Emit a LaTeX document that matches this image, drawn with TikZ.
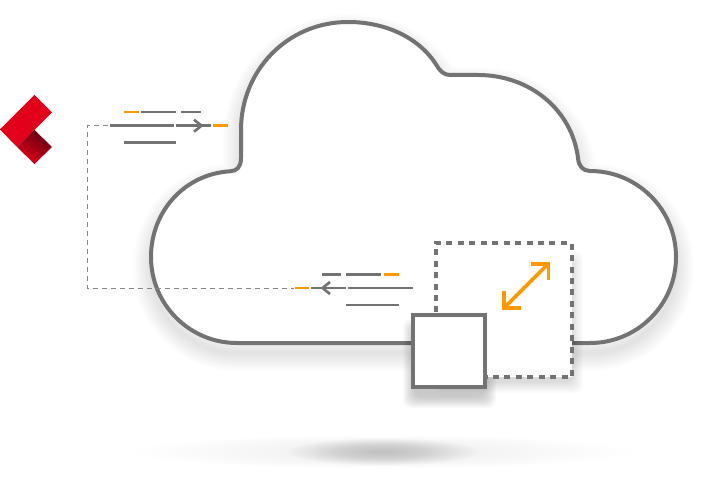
\documentclass[tikz,border=0pt]{standalone}
\usetikzlibrary{positioning, calc}

\definecolor{linegray}{HTML}{737373}
\definecolor{lineorange}{HTML}{FF9900}
\definecolor{logored}{HTML}{E2001A}
\definecolor{logodark}{HTML}{5E0010}

\tikzset{
  cloudline/.style={draw=linegray, line width=4pt, fill=white},
  graybar/.style={draw=linegray, line width=2.6pt},
  orangebar/.style={draw=lineorange, line width=2.6pt},
  resizeline/.style={draw=lineorange, line width=3.8pt, miter limit=10},
  thinlink/.style={draw=linegray!85, line width=0.7pt, dash pattern=on 5pt off 4pt},
  solidbox/.style={draw=linegray, line width=3.8pt, fill=white, minimum size=72pt, inner sep=0pt},
  dashbox/.style={draw=linegray, line width=3.8pt, fill=white, minimum width=136pt, minimum height=134pt, inner sep=0pt, dash pattern=on 6pt off 5.45pt}
}

\newcommand{\cloudpath}{(237,343) -- (590,343)
  .. controls (637.5,343) and (676,304.5) .. (676,257)
  .. controls (676,209.5) and (637.5,171) .. (590,171)
  .. controls (583,171) and (578.5,166) .. (578,158)
  .. controls (572,110) and (530,75) .. (478,75)
  -- (450,75)
  .. controls (444,75) and (440,71) .. (437,66)
  .. controls (420,38) and (386,22) .. (348,22)
  .. controls (288,22) and (241,70) .. (241,130)
  -- (241,158)
  .. controls (241,167) and (237,171) .. (230,171.3)
  .. controls (185,174) and (151,211) .. (151,257)
  .. controls (151,304.5) and (189.5,343) .. (237,343) -- cycle}

\begin{document}
\begin{tikzpicture}[x=1pt, y=-1pt]
\useasboundingbox (0,0) rectangle (708,481);

% Ground shadow
\foreach \k in {1,...,16} {
  \fill[black, opacity=0.005] (383,452) ellipse ({262-\k*14} and {17-\k*0.5});
}
\foreach \k in {1,...,18} {
  \fill[black, opacity=0.012] (383,452) ellipse ({100-\k*5} and {14-\k*0.7});
}

% Cloud shadow
\foreach \k in {1,...,14} {
  \draw[black, opacity=0.008, line width=\k*2.6pt, line join=round, yshift=-10pt] \cloudpath;
}

% Cloud
\draw[cloudline] \cloudpath;

% Shadows of the two boxes
\foreach \k in {1,...,12} {
  \fill[black, opacity=0.01, rounded corners=8pt] (\k+432,\k+250) rectangle (584-\k,394-\k);
  \fill[black, opacity=0.018, rounded corners=8pt] (\k+402,\k+318) rectangle (497-\k,409-\k);
}

% Boxes
\node[dashbox] (scaled) at (503.7,310) {};
\node[solidbox] (server) at (449.3,350.7) {};

% Resize arrow
\draw[resizeline] (505,307) -- (547,265);
\draw[resizeline] (531,263.7) -- (548.4,263.7) -- (548.4,280);
\draw[resizeline] (503.9,291) -- (503.9,308) -- (521,308);

% Outgoing lines
\draw[orangebar] (124,112) -- (139,112);
\draw[graybar] (141,112) -- (176,112);
\draw[graybar] (181,112) -- (201,112);
\draw[graybar] (110,125.7) -- (174,125.7);
\draw[graybar] (176,125.7) -- (211,125.7);
\draw[graybar] (194,119.7) -- (201.5,125.7) -- (194,131.7);
\draw[orangebar] (213,125.7) -- (228,125.7);
\draw[graybar] (124,142.3) -- (176,142.3);

% Incoming lines
\draw[graybar] (322,274.3) -- (341,274.3);
\draw[graybar] (346,274.3) -- (381,274.3);
\draw[orangebar] (384,274.3) -- (399,274.3);
\draw[orangebar] (295,288) -- (309,288);
\draw[graybar] (311,288) -- (346,288);
\draw[graybar] (348,288) -- (413,288);
\draw[graybar] (330,282) -- (322.5,288) -- (330,294);
\draw[graybar] (346,305) -- (399,305);

% Link
\coordinate (linkstart) at (108,125.7);
\coordinate (linkend) at (294,288);
\draw[thinlink] (linkstart) -| (87,288) -- (linkend);

% Logo
\fill[logored] (34.5,95) -- (52,112.3) -- (34.5,130) -- (17,112.3) -- cycle;
\fill[logored] (17,112.3) -- (34.5,130) -- (17,147) -- (0,129.5) -- cycle;
\shade[left color=logodark, right color=logored, shading angle=-30] (34.5,130) -- (52,147) -- (34.5,164) -- (17,147) -- cycle;
\draw[logored!85!black, line width=0.3pt] (17,112.3) -- (34.5,130);
\end{tikzpicture}
\end{document}
